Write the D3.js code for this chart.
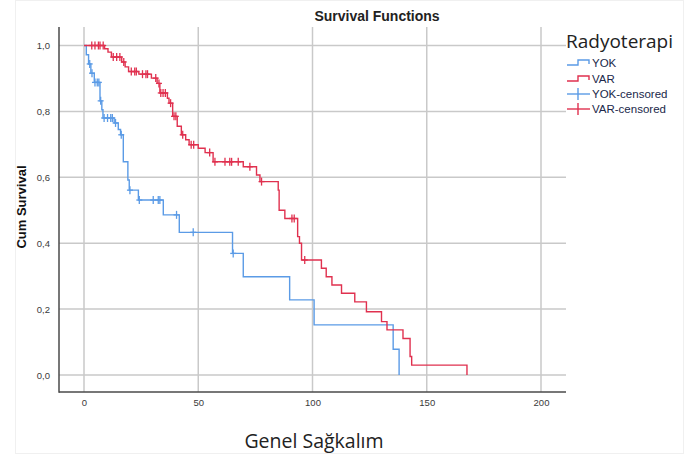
<!DOCTYPE html>
<html>
<head>
<meta charset="utf-8">
<script src="https://cdn.jsdelivr.net/npm/d3@7"></script>
<style>
  body { margin: 0; background: #fff; }
  #chart { width: 693px; height: 459px; }
</style>
</head>
<body>
<div id="chart"></div>
<script>
// Kaplan-Meier steps (time in months, cum survival)
const yokTimes = [0, 1, 2, 3, 4.5, 7, 7.8, 8.3, 13.2, 15, 16, 17.2, 19.2, 19.8, 23.8, 34.7, 41.7, 65, 69.7, 90, 100.7, 135.3, 137.9];
const yokSurv = [1, 0.972, 0.944, 0.916, 0.888, 0.832, 0.805, 0.78, 0.765, 0.745, 0.729, 0.647, 0.592, 0.561, 0.531, 0.486, 0.433, 0.369, 0.298, 0.228, 0.152, 0.078, 0];
const yokCensored = [2.5, 3.5, 4.8, 5.8, 6.5, 7.3, 8.8, 10.3, 11.7, 12.4, 13.8, 16.3, 20.1, 24.2, 30.3, 32.5, 33.2, 40.5, 47.8, 65.3];

const varTimes = [0, 9, 10.5, 12, 16.5, 18, 19.5, 24, 29.5, 32, 33.2, 36.5, 37.2, 38.8, 40.8, 42.6, 44.5, 46, 50, 53, 56.5, 69.7, 75.5, 77, 85, 85.4, 87.9, 93.5, 94.3, 95.2, 103.9, 106, 108.5, 112.7, 118.5, 123.6, 130.2, 132.6, 139.6, 142.7, 143.4, 167.6];
const varSurv = [1, 0.99, 0.98, 0.965, 0.95, 0.935, 0.921, 0.913, 0.901, 0.885, 0.856, 0.84, 0.825, 0.785, 0.755, 0.729, 0.714, 0.699, 0.688, 0.675, 0.647, 0.632, 0.607, 0.587, 0.561, 0.5, 0.475, 0.42, 0.4, 0.349, 0.324, 0.298, 0.273, 0.248, 0.222, 0.192, 0.162, 0.137, 0.111, 0.056, 0.03, 0];
const varCensored = [3.4, 4.8, 6.3, 7, 8.4, 12.8, 14.3, 15.7, 17.4, 20.7, 22.2, 22.9, 25.6, 27.1, 27.8, 31.4, 32.8, 33.6, 34.6, 35.6, 37.9, 39.4, 40.2, 43.2, 46.9, 48, 55, 57.3, 61.7, 63.8, 64.6, 67.5, 72.6, 77.7, 91, 92, 96.6];

const xTicks = [0, 50, 100, 150, 200];
const yTicks = [0, 0.2, 0.4, 0.6, 0.8, 1];
const legendLabels = ["YOK", "VAR", "YOK-censored", "VAR-censored"];

const blue = "#5b9be6";
const red = "#e0314f";

const width = 693, height = 459;
const svg = d3.select("#chart").append("svg")
  .attr("width", width).attr("height", height);

// faint panel outline
svg.append("rect")
  .attr("x", 15.5).attr("y", 0.5).attr("width", 668).attr("height", 453)
  .attr("fill", "none").attr("stroke", "#f0f0f0");

const x = d3.scaleLinear().domain([0, 200]).range([84, 541]);
const y = d3.scaleLinear().domain([0, 1]).range([375, 45.5]);
const plotLeft = 59, plotRight = 566, plotTop = 27, plotBottom = 392;

// grid
svg.append("g").selectAll("line").data(xTicks).join("line")
  .attr("x1", d => x(d)).attr("x2", d => x(d))
  .attr("y1", plotTop).attr("y2", plotBottom)
  .attr("stroke", "#c9c9c9").attr("stroke-width", 1.5);
svg.append("g").selectAll("line").data(yTicks).join("line")
  .attr("x1", plotLeft).attr("x2", plotRight)
  .attr("y1", d => y(d)).attr("y2", d => y(d))
  .attr("stroke", "#c9c9c9").attr("stroke-width", 1.5);

// axes (labels only, spines drawn by hand)
const fmt = d3.format(".1f");
const gX = svg.append("g").attr("transform", `translate(0,${plotBottom})`)
  .call(d3.axisBottom(x).tickValues(xTicks).tickSize(0).tickPadding(7));
const gY = svg.append("g").attr("transform", `translate(${plotLeft},0)`)
  .call(d3.axisLeft(y).tickValues(yTicks).tickSize(0).tickPadding(9)
    .tickFormat(d => fmt(d).replace(".", ",")));
[gX, gY].forEach(g => {
  g.select(".domain").remove();
  g.selectAll("text").attr("font-family", "Liberation Sans, Arial, sans-serif")
    .attr("font-size", 9.5).attr("fill", "#3a3a3a");
});

svg.append("line").attr("x1", plotLeft).attr("x2", plotLeft).attr("y1", plotTop).attr("y2", plotBottom + 0.75)
  .attr("stroke", "#4a4a4a").attr("stroke-width", 1.5);
svg.append("line").attr("x1", plotLeft).attr("x2", plotRight).attr("y1", plotBottom).attr("y2", plotBottom)
  .attr("stroke", "#4a4a4a").attr("stroke-width", 1.5);

// curves
const line = d3.line().x(d => x(d[0])).y(d => y(d[1])).curve(d3.curveStepAfter);
function survAt(times, surv, t) {
  const i = d3.bisectRight(times, t) - 1;
  return surv[Math.max(i, 0)];
}
function drawGroup(times, surv, cens, color) {
  svg.append("path").datum(d3.zip(times, surv))
    .attr("d", line).attr("fill", "none")
    .attr("stroke", color).attr("stroke-width", 1.4);
  const g = svg.append("g").attr("stroke", color).attr("stroke-width", 1.3);
  cens.forEach(c => {
    const cx = x(c), cy = y(survAt(times, surv, c));
    g.append("line").attr("x1", cx).attr("x2", cx).attr("y1", cy - 4).attr("y2", cy + 4);
    g.append("line").attr("x1", cx - 3).attr("x2", cx + 3).attr("y1", cy).attr("y2", cy);
  });
}
drawGroup(yokTimes, yokSurv, yokCensored, blue);
drawGroup(varTimes, varSurv, varCensored, red);

// titles
svg.append("text").attr("x", 377).attr("y", 21).attr("text-anchor", "middle")
  .attr("font-family", "Liberation Sans, Arial, sans-serif").attr("font-weight", "bold")
  .attr("font-size", 14).attr("fill", "#222").text("Survival Functions");
svg.append("text").attr("transform", "translate(26,207) rotate(-90)").attr("text-anchor", "middle")
  .attr("font-family", "Liberation Sans, Arial, sans-serif").attr("font-weight", "bold")
  .attr("font-size", 13).attr("fill", "#111").text("Cum Survival");
svg.append("text").attr("x", 314).attr("y", 448).attr("text-anchor", "middle")
  .attr("font-family", "Open Sans, sans-serif").attr("font-size", 19.5)
  .attr("fill", "#222").text("Genel Sağkalım");

// legend
const lg = svg.append("g");
lg.append("text").attr("x", 566).attr("y", 48)
  .attr("font-family", "Open Sans, sans-serif").attr("font-size", 19)
  .attr("fill", "#222").text("Radyoterapi");
const legendColors = [blue, red, blue, red];
const ly = [63, 79, 94, 109];
legendLabels.forEach((lab, i) => {
  const yy = ly[i];
  const c = legendColors[i];
  if (i < 2) {
    lg.append("path").attr("d", `M567,${yy + 2}H578V${yy - 3}H589V${yy + 1}`)
      .attr("fill", "none").attr("stroke", c).attr("stroke-width", 1.4);
  } else {
    lg.append("line").attr("x1", 567).attr("x2", 590).attr("y1", yy).attr("y2", yy)
      .attr("stroke", c).attr("stroke-width", 1.4);
    lg.append("line").attr("x1", 578).attr("x2", 578).attr("y1", yy - 6).attr("y2", yy + 6)
      .attr("stroke", c).attr("stroke-width", 1.4);
  }
  lg.append("text").attr("x", 592).attr("y", yy + 4)
    .attr("font-family", "Liberation Sans, Arial, sans-serif").attr("font-size", 11.5)
    .attr("fill", "#20284a").text(lab);
});
</script>
</body>
</html>
